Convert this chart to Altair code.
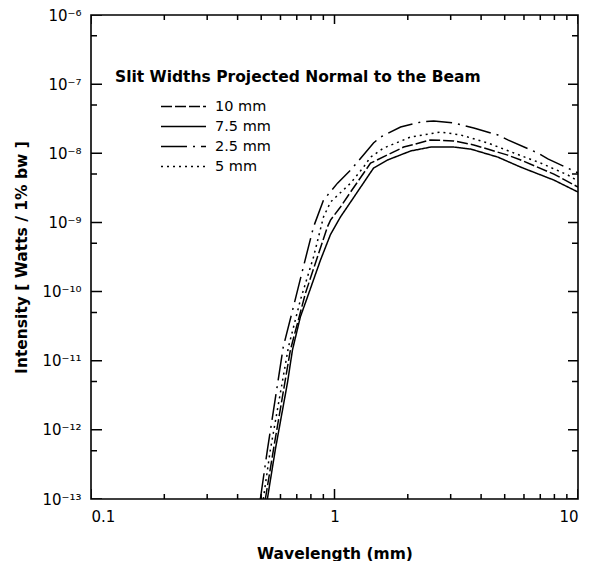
import altair as alt
import pandas as pd

# ---- data ----
series_names = ["10 mm", "7.5 mm", "2.5 mm", "5 mm"]

x_10 = [0.520, 0.561, 0.659, 0.760, 0.851, 0.935, 0.963, 1.058, 1.164, 1.406, 1.923, 2.483, 3.088, 3.733, 5.15, 5.82, 7.96, 10.0]
y_10 = [1e-13, 5.1e-13, 1.43e-11, 9.5e-11, 3.16e-10, 8.6e-10, 1.08e-9, 1.67e-9, 2.75e-9, 7.2e-9, 1.23e-8, 1.56e-8, 1.51e-8, 1.32e-8, 9.4e-9, 8.0e-9, 5.0e-9, 3.25e-9]

x_75 = [0.530, 0.571, 0.641, 0.672, 0.724, 0.774, 0.876, 0.963, 1.058, 1.164, 1.446, 1.652, 2.055, 2.483, 3.088, 3.628, 4.687, 5.82, 7.96, 10.0]
y_75 = [1e-13, 5.1e-13, 4.8e-12, 1.43e-11, 4.3e-11, 8.3e-11, 2.86e-10, 6.7e-10, 1.2e-9, 1.97e-9, 6.1e-9, 8.0e-9, 1.08e-8, 1.23e-8, 1.23e-8, 1.15e-8, 8.8e-9, 6.3e-9, 4.1e-9, 2.75e-9]

x_25 = [0.496, 0.530, 0.616, 0.678, 0.745, 0.820, 0.901, 1.029, 1.164, 1.446, 1.546, 1.868, 2.259, 2.555, 3.088, 3.733, 4.687, 5.15, 6.84, 7.52, 10.0]
y_25 = [1e-13, 5.1e-13, 1.58e-11, 6.0e-11, 2.27e-10, 8.6e-10, 2.1e-9, 3.7e-9, 5.7e-9, 1.41e-8, 1.72e-8, 2.40e-8, 2.83e-8, 2.93e-8, 2.74e-8, 2.32e-8, 1.84e-8, 1.56e-8, 1.01e-8, 8.3e-9, 5.2e-9]

x_5 = [0.510, 0.545, 0.647, 0.724, 0.820, 0.901, 0.963, 1.164, 1.316, 1.406, 1.591, 2.055, 2.731, 3.30, 4.263, 5.453, 7.04, 9.09, 10.0]
y_5 = [1e-13, 5.1e-13, 1.58e-11, 7.5e-11, 3.16e-10, 1.2e-9, 1.97e-9, 3.7e-9, 6.3e-9, 8.8e-9, 1.19e-8, 1.72e-8, 2.03e-8, 1.84e-8, 1.41e-8, 1.01e-8, 7.2e-9, 4.85e-9, 3.97e-9]

x_major = [0.1, 1, 10]
x_minor = [0.2, 0.3, 0.4, 0.5, 0.6, 0.7, 0.8, 0.9, 2, 3, 4, 5, 6, 7, 8, 9]
y_major = [1e-13, 1e-12, 1e-11, 1e-10, 1e-9, 1e-8, 1e-7, 1e-6]
y_minor = [5e-13, 5e-12, 5e-11, 5e-10, 5e-9, 5e-8, 5e-7]

X_LO, X_HI = 0.1, 10.0
Y_LO, Y_HI = 1e-13, 1e-6

W, H = 487, 484
FONT = "DejaVu Sans"

# ---- curve rows ----
rows = []
for name, xs, ys in [("10 mm", x_10, y_10), ("7.5 mm", x_75, y_75),
                     ("2.5 mm", x_25, y_25), ("5 mm", x_5, y_5)]:
    for xv, yv in zip(xs, ys):
        rows.append({"val_x": xv, "val_y": yv, "slit": name, "grp": name})

# ---- inward frame ticks, drawn as short solid segments of the same line mark ----
px_per_dec_x = W / 2.0   # 2 decades across
px_per_dec_y = H / 7.0   # 7 decades down
k = 0


def add_tick(x0, y0, x1, y1):
    global k
    k += 1
    g = f"tick{k}"
    rows.append({"val_x": x0, "val_y": y0, "slit": "tick", "grp": g})
    rows.append({"val_x": x1, "val_y": y1, "slit": "tick", "grp": g})


for vals, bot_len, top_len in [(x_major, 10, 9), (x_minor, 5, 5)]:
    for v in vals:
        add_tick(v, Y_LO, v, Y_LO * 10 ** (bot_len / px_per_dec_y))
        add_tick(v, Y_HI, v, Y_HI / 10 ** (top_len / px_per_dec_y))
for vals, left_len, right_len in [(y_major, 11, 10), (y_minor, 6, 6)]:
    for v in vals:
        add_tick(X_LO, v, X_LO * 10 ** (left_len / px_per_dec_x), v)
        add_tick(X_HI, v, X_HI / 10 ** (right_len / px_per_dec_x), v)

df = pd.DataFrame(rows)

xscale = alt.Scale(type="log", domain=[X_LO, X_HI], nice=False)
yscale = alt.Scale(type="log", domain=[Y_LO, Y_HI], nice=False)

sup = {"-": "\u207b", "0": "\u2070", "1": "\u00b9", "2": "\u00b2", "3": "\u00b3",
       "4": "\u2074", "5": "\u2075", "6": "\u2076", "7": "\u2077", "8": "\u2078", "9": "\u2079"}
e_expr = "round(log(datum.value)/LN10)"
parts = []
for e in range(-13, -5):
    s = "".join(sup[c] for c in str(e))
    parts.append(f"{e_expr} == {e} ? '10{s}'")
ylabel_expr = " : ".join(parts) + " : ''"

xaxis = alt.Axis(values=x_major, format="~g", title="Wavelength (mm)",
                 ticks=False, domain=False, grid=False, labelPadding=10,
                 titleY=54, titleBaseline="middle")
yaxis = alt.Axis(values=y_major, labelExpr=ylabel_expr,
                 title="Intensity  [ Watts / 1% bw ]",
                 ticks=False, domain=False, grid=False, labelPadding=10,
                 titleX=-70, titleY=H / 2, titleAngle=270,
                 titleBaseline="middle", titleAlign="center")

chart = alt.Chart(df).mark_line(color="black", strokeWidth=1.5, clip=True).encode(
    x=alt.X("val_x:Q", scale=xscale, axis=xaxis),
    y=alt.Y("val_y:Q", scale=yscale, axis=yaxis),
    detail=alt.Detail("grp:N"),
    strokeDash=alt.StrokeDash(
        "slit:N",
        scale=alt.Scale(domain=series_names + ["tick"],
                        range=[[11, 3], [1, 0], [26, 6, 2, 6], [2, 4], [1, 0]]),
        legend=alt.Legend(orient="none", legendX=24, legendY=55, values=series_names,
                          title="Slit Widths Projected Normal to the Beam",
                          titleFont=FONT, titleFontSize=15.5, titleFontWeight="bold",
                          titleColor="black", titlePadding=13, titleLimit=600,
                          labelFont=FONT, labelFontSize=14.5, labelColor="black",
                          symbolType="stroke", symbolSize=2025, symbolStrokeWidth=1.6,
                          symbolStrokeColor="black", symbolOffset=45, labelOffset=8,
                          clipHeight=16, rowPadding=4, padding=0),
    ),
).properties(
    width=W, height=H,
    autosize=alt.AutoSizeParams(type="none"),
    padding={"left": 83, "top": 7, "right": 8, "bottom": 62},
).configure_view(
    stroke="black", strokeWidth=1.6
).configure_axis(
    labelFont=FONT, labelFontSize=15, labelColor="black",
    titleFont=FONT, titleFontSize=15.5, titleFontWeight="bold", titleColor="black",
)

chart.save("out.html", embed_options={"renderer": "svg", "actions": False})
